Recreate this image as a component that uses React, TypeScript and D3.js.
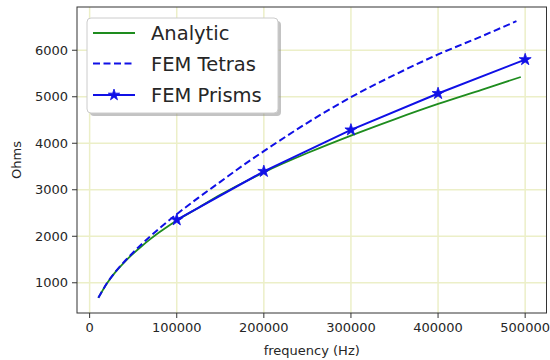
import React from "react";
import * as d3 from "d3";

const analyticFreq = [10000, 20000, 30000, 40000, 50000, 60000, 70000, 80000, 90000, 100000, 125000, 150000, 175000, 200000, 250000, 300000, 350000, 400000, 450000, 495000];
const analyticOhms = [676, 990, 1240, 1446, 1628, 1792, 1944, 2085, 2216, 2340, 2615, 2890, 3140, 3375, 3790, 4165, 4515, 4845, 5150, 5425];

const tetraFreq = [10000, 20000, 30000, 40000, 50000, 60000, 70000, 80000, 90000, 100000, 125000, 150000, 175000, 200000, 250000, 300000, 350000, 400000, 450000, 490000];
const tetraOhms = [676, 995, 1245, 1458, 1652, 1835, 2005, 2170, 2325, 2475, 2830, 3170, 3510, 3830, 4440, 4990, 5470, 5910, 6300, 6626];

const prismFreq = [100000, 200000, 300000, 400000, 500000];
const prismOhms = [2354, 3395, 4287, 5070, 5799];

const xTicks = [0, 100000, 200000, 300000, 400000, 500000];
const yTicks = [1000, 2000, 3000, 4000, 5000, 6000];

const legendLabels = ["Analytic", "FEM Tetras", "FEM Prisms"];

const FONT = "DejaVu Sans, sans-serif";
const TXT = "#262626";
const GRID = "#ecefc8";
const GREEN = "#1e8c1e";
const BLUE = "#1010e6";

export default function App() {
  const left = 77, right = 546.5, top = 7, bottom = 313;
  const x = d3.scaleLinear().domain([-14500, 524500]).range([left, right]);
  const y = d3.scaleLinear().domain([350, 6930]).range([bottom, top]);

  const line = d3
    .line<[number, number]>()
    .x((d) => x(d[0]))
    .y((d) => y(d[1]))
    .curve(d3.curveMonotoneX);
  const straight = d3
    .line<[number, number]>()
    .x((d) => x(d[0]))
    .y((d) => y(d[1]));

  const aPts = analyticFreq.map((f, i) => [f, analyticOhms[i]] as [number, number]);
  const tPts = tetraFreq.map((f, i) => [f, tetraOhms[i]] as [number, number]);
  const pPts = prismFreq.map((f, i) => [f, prismOhms[i]] as [number, number]);

  const star = d3.symbol().type(d3.symbolStar).size(45)() as string;
  const starSmall = d3.symbol().type(d3.symbolStar).size(40)() as string;

  const lg = { x: 87, y: 18, w: 191, h: 95 };
  const rows = [33, 63.5, 95];

  return (
    <svg width={550} height={360} style={{ position: "absolute", left: 0, top: 0, background: "#fff" }}>
      <rect x={0} y={0} width={550} height={360} fill="#fff" />
      <defs>
        <clipPath id="plotclip">
          <rect x={left} y={top} width={right - left} height={bottom - top} />
        </clipPath>
      </defs>
      {/* grid */}
      {xTicks.map((t) => (
        <line key={"gx" + t} x1={x(t)} x2={x(t)} y1={top} y2={bottom} stroke={GRID} strokeWidth={1.5} />
      ))}
      {yTicks.map((t) => (
        <line key={"gy" + t} x1={left} x2={right} y1={y(t)} y2={y(t)} stroke={GRID} strokeWidth={1.5} />
      ))}
      <g clipPath="url(#plotclip)">
        <path d={line(aPts) as string} fill="none" stroke={GREEN} strokeWidth={1.8} />
        <path d={line(tPts) as string} fill="none" stroke={BLUE} strokeWidth={2} strokeDasharray="7,3.5" />
        <path d={straight(pPts) as string} fill="none" stroke={BLUE} strokeWidth={2} />
        {pPts.map((p, i) => (
          <path key={"m" + i} d={star} transform={`translate(${x(p[0])},${y(p[1])})`} fill={BLUE} stroke={BLUE} strokeWidth={0.8} />
        ))}
      </g>
      {/* spines */}
      <rect x={left} y={top} width={right - left} height={bottom - top} fill="none" stroke="#333" strokeWidth={1} />
      {/* x ticks */}
      {xTicks.map((t) => (
        <g key={"xt" + t}>
          <line x1={x(t)} x2={x(t)} y1={bottom} y2={bottom + 5} stroke="#333" strokeWidth={1} />
          <text x={x(t)} y={bottom + 19} textAnchor="middle" fontFamily={FONT} fontSize={13} fill={TXT}>
            {t}
          </text>
        </g>
      ))}
      {/* y ticks */}
      {yTicks.map((t) => (
        <g key={"yt" + t}>
          <line x1={left - 5} x2={left} y1={y(t)} y2={y(t)} stroke="#333" strokeWidth={1} />
          <text x={left - 9} y={y(t) + 4.5} textAnchor="end" fontFamily={FONT} fontSize={13} fill={TXT}>
            {t}
          </text>
        </g>
      ))}
      <text x={(left + right) / 2} y={355} textAnchor="middle" fontFamily={FONT} fontSize={13} fill={TXT}>
        frequency (Hz)
      </text>
      <text transform={`translate(21,${(top + bottom) / 2}) rotate(-90)`} textAnchor="middle" fontFamily={FONT} fontSize={13} fill={TXT}>
        Ohms
      </text>
      {/* legend */}
      <rect x={lg.x + 3} y={lg.y + 3} width={lg.w} height={lg.h} rx={4} fill="#888" opacity={0.5} />
      <rect x={lg.x} y={lg.y} width={lg.w} height={lg.h} rx={4} fill="#fff" stroke="#ccc" strokeWidth={1} />
      <line x1={93} x2={135} y1={rows[0]} y2={rows[0]} stroke={GREEN} strokeWidth={1.8} />
      <line x1={93} x2={135} y1={rows[1]} y2={rows[1]} stroke={BLUE} strokeWidth={2} strokeDasharray="7,3.5" />
      <line x1={93} x2={135} y1={rows[2]} y2={rows[2]} stroke={BLUE} strokeWidth={2} />
      <path d={starSmall} transform={`translate(114,${rows[2]})`} fill={BLUE} stroke={BLUE} strokeWidth={0.8} />
      {legendLabels.map((l, i) => (
        <text key={l} x={151} y={rows[i] + 7} fontFamily={FONT} fontSize={19.5} fill={TXT}>
          {l}
        </text>
      ))}
    </svg>
  );
}
